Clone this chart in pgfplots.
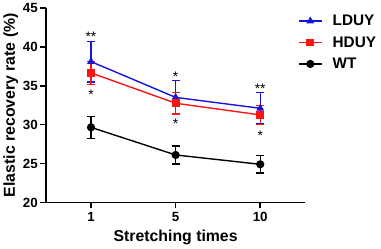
\documentclass[border=0pt]{standalone}
\usepackage{fontspec}
\setmainfont{Liberation Sans}
\usepackage{pgfplots}
\pgfplotsset{compat=1.18}
\definecolor{myblue}{RGB}{20,20,220}
\definecolor{myred}{RGB}{250,20,20}
\begin{document}
\begin{tikzpicture}
\begin{axis}[
  scale only axis,
  width=261bp, height=196bp,
  xmin=-0.53, xmax=2.53,
  ymin=20, ymax=45,
  xtick={0,1,2}, xticklabels={1,5,10},
  ytick={20,25,30,35,40,45},
  axis lines=left,
  axis line style={line width=1.7bp, -},
  tick style={line width=1.7bp, black},
  tick align=outside,
  major tick length=6bp,
  xtick pos=bottom, ytick pos=left,
  /pgf/number format/assume math mode=true,
  ticklabel style={font=\bfseries\fontsize{13.5}{14}\selectfont},
  yticklabel style={xshift=1bp},
  xlabel={\bfseries Stretching times},
  ylabel={\bfseries Elastic recovery rate (\%)},
  label style={font=\bfseries\fontsize{16}{17}\selectfont},
  ylabel style={at={(axis description cs:-0.137,0.5)}, anchor=center},
  xlabel style={at={(axis description cs:0.5,-0.18)}, anchor=center},
  legend style={draw=none, fill=none, at={(1,1)}, anchor=north west, xshift=-10bp, yshift=-3bp,
    font=\bfseries\fontsize{15.5}{16}\selectfont, row sep=5.5bp},
  legend cell align=left,
  legend image code/.code={\draw[mark repeat=2,mark phase=2] plot coordinates {(0cm,0cm)(0.4cm,0cm)(0.8cm,0cm)};\path (1.1cm,0cm);},
  clip=false,
]
\addplot[myblue, line width=1.4bp, mark=triangle*, mark size=3.2bp, mark options={solid},
  error bars/.cd, y dir=both, y explicit,
  error bar style={line width=1.4bp, myblue},
  error mark options={rotate=90, mark size=4bp, line width=1.4bp, myblue}]
  coordinates {(0,38.1) +- (0,2.6) (1,33.5) +- (0,2.2) (2,32.1) +- (0,2.0)};
\addlegendentry{LDUY}
\addplot[myred, line width=1.4bp, mark=square*, mark size=3.3bp, mark options={solid},
  error bars/.cd, y dir=both, y explicit,
  error bar style={line width=1.4bp, myred},
  error mark options={rotate=90, mark size=4bp, line width=1.4bp, myred}]
  coordinates {(0,36.65) +- (0,1.5) (1,32.75) +- (0,1.4) (2,31.25) +- (0,1.2)};
\addlegendentry{HDUY}
\addplot[black, line width=1.4bp, mark=*, mark size=3.4bp, mark options={solid},
  error bars/.cd, y dir=both, y explicit,
  error bar style={line width=1.4bp, black},
  error mark options={rotate=90, mark size=4bp, line width=1.4bp, black}]
  coordinates {(0,29.65) +- (0,1.4) (1,26.1) +- (0,1.15) (2,24.9) +- (0,1.1)};
\addlegendentry{WT}
\begin{scope}[font=\fontsize{14}{14}\selectfont]
\node at (axis cs:0,41.3) {**};
\node at (axis cs:0,33.9) {*};
\node at (axis cs:1,36.2) {*};
\node at (axis cs:1,30.1) {*};
\node at (axis cs:2,34.6) {**};
\node at (axis cs:2,28.6) {*};
\end{scope}
\end{axis}
\path[use as bounding box] ([xshift=-45.7bp,yshift=-45.7bp]current axis.south west) rectangle ([xshift=74.3bp,yshift=7.3bp]current axis.north east);
\end{tikzpicture}
\end{document}
